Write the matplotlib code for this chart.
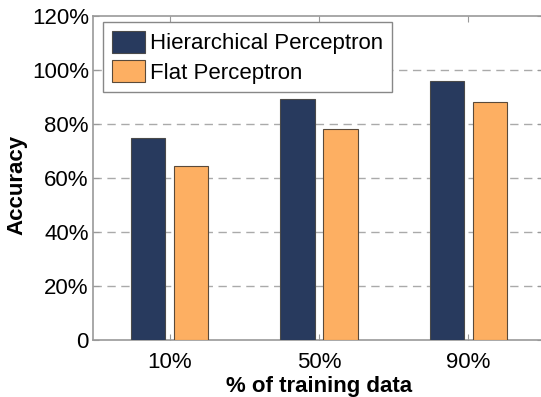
import matplotlib.pyplot as plt
import numpy as np

plt.rcParams['font.family'] = ['Liberation Sans', 'DejaVu Sans']

# data
categories = ['10%', '50%', '90%']
hierarchical = [74.7, 89.3, 96.0]
flat = [64.4, 78.0, 88.3]
yticks = [0, 20, 40, 60, 80, 100, 120]
ytick_labels = ['0', '20%', '40%', '60%', '80%', '100%', '120%']

x = np.arange(1, len(categories) + 1)
width = 0.23
offset = 0.143

fig = plt.figure(figsize=(5.41, 3.97), dpi=100)
ax = fig.add_axes([93 / 541, 57 / 397, 450 / 541, 324 / 397])

ax.bar(x - offset, hierarchical, width, color='#283a5e', edgecolor='#4a4a4a',
       linewidth=0.8, label='Hierarchical Perceptron', zorder=3)
ax.bar(x + offset, flat, width, color='#fdaf62', edgecolor='#5a4a3a',
       linewidth=0.8, label='Flat Perceptron', zorder=3)

ax.set_xlim(0.487, 3.5)
ax.set_ylim(0, 120)
ax.set_xticks(x)
ax.set_xticklabels(categories)
ax.set_yticks(yticks)
ax.set_yticklabels(ytick_labels)

for yv in yticks[1:-1]:
    ax.axhline(yv, color='#aaaaaa', linestyle=(0, (6, 4)), linewidth=1.0, zorder=1)

for s in ax.spines.values():
    s.set_color('#999999')
    s.set_linewidth(1.2)

ax.tick_params(axis='both', direction='in', length=4, color='#999999',
               labelsize=16, top=True, right=True)
ax.tick_params(axis='x', pad=8.5)
ax.tick_params(axis='y', pad=3)

ax.set_xlabel('% of training data', fontsize=16, fontweight='bold', va='center')
ax.xaxis.set_label_coords(0.503, -0.145)
ax.set_ylabel('Accuracy', fontsize=16, fontweight='bold', va='center')
ax.yaxis.set_label_coords(-0.170, 0.48)

leg = ax.legend(loc='upper left', bbox_to_anchor=(10 / 450, 1 - 6 / 324),
                fontsize=16, fancybox=False, framealpha=1, edgecolor='#888888',
                handlelength=1.5, handleheight=1.15, handletextpad=0.2,
                borderpad=0.4, labelspacing=0.25, borderaxespad=0)
leg.get_frame().set_linewidth(1.0)

fig.savefig('out.png', dpi=100)
